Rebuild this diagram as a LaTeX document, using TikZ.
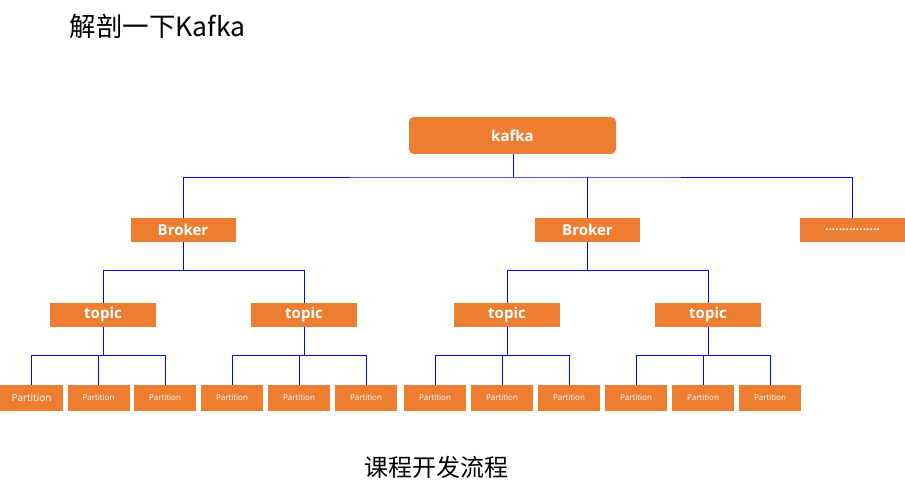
\documentclass[tikz,border=0pt]{standalone}
\usepackage{fontspec}
\setmainfont{Open Sans}
\newfontfamily\cjkfont{Noto Sans CJK SC}
\definecolor{boxorange}{HTML}{ED7D31}
\definecolor{linkblue}{HTML}{0000FF}
\begin{document}
\begin{tikzpicture}[x=1pt,y=-1pt,
  box/.style={fill=boxorange,draw=none,text=white,inner sep=0pt,anchor=center},
  bigbox/.style={box,minimum width=105pt,minimum height=24pt,font=\fontsize{15}{17}\selectfont\bfseries},
  partbox/.style={box,minimum width=62pt,minimum height=26pt,font=\fontsize{8}{9}\selectfont},
  link/.style={draw=linkblue,line width=0.9pt}]
\useasboundingbox (0,0) rectangle (905,497);
% titles
\node[anchor=west,font=\cjkfont\fontsize{26.5}{29}\selectfont] (title) at (66,26) {解剖一下Kafka};
\node[font=\cjkfont\fontsize{24}{26}\selectfont] (foot) at (436.5,467) {课程开发流程};
% root
\node[box,rounded corners=5pt,minimum width=207pt,minimum height=37pt,font=\fontsize{15}{17}\selectfont\bfseries] (kafka) at (512.5,135.5) {kafka};
% brokers
\node[bigbox] (b1) at (183,230) {Broker};
\node[bigbox] (b2) at (587.5,230) {Broker};
\node[bigbox,font=\fontsize{12}{14}\selectfont\bfseries] (b3) at (852.5,230) {................};
% topics
\node[bigbox,minimum width=106pt] (t1) at (103,315) {topic};
\node[bigbox,minimum width=106pt] (t2) at (304,315) {topic};
\node[bigbox,minimum width=106pt] (t3) at (507,315) {topic};
\node[bigbox,minimum width=106pt] (t4) at (708,315) {topic};
% partitions
\node[partbox,minimum width=63pt,font=\fontsize{10}{11}\selectfont] (p11) at (31.5,398) {Partition};
\node[partbox] (p12) at (98.5,398) {Partition};
\node[partbox] (p13) at (165,398) {Partition};
\node[partbox] (p21) at (232,398) {Partition};
\node[partbox] (p22) at (299,398) {Partition};
\node[partbox] (p23) at (366,398) {Partition};
\node[partbox] (p31) at (435,398) {Partition};
\node[partbox] (p32) at (502,398) {Partition};
\node[partbox] (p33) at (569,398) {Partition};
\node[partbox] (p41) at (636,398) {Partition};
\node[partbox] (p42) at (703,398) {Partition};
\node[partbox] (p43) at (770,398) {Partition};
% connectors
\coordinate (j0) at (513,177);
\draw[link] (kafka.south -| j0) -- (j0);
\draw[link] (b1.north) |- (j0) -| (b3.north);
\draw[link] (b2.north) -- (b2.north |- j0);
\foreach \b/\l/\r in {b1/t1/t2,b2/t3/t4}{
  \draw[link] (\b.south) -- (\b.south |- 0,270);
  \draw[link] (\l.north) |- (\r.north |- 0,270) -- (\r.north);
}
\foreach \t/\a/\m/\c in {t1/p11/p12/p13,t2/p21/p22/p23,t3/p31/p32/p33,t4/p41/p42/p43}{
  \draw[link] (\t.south) -- (\t.south |- 0,355);
  \draw[link] (\a.north) |- (\c.north |- 0,355) -- (\c.north);
  \draw[link] (\m.north) -- (\m.north |- 0,355);
}
\end{tikzpicture}
\end{document}
